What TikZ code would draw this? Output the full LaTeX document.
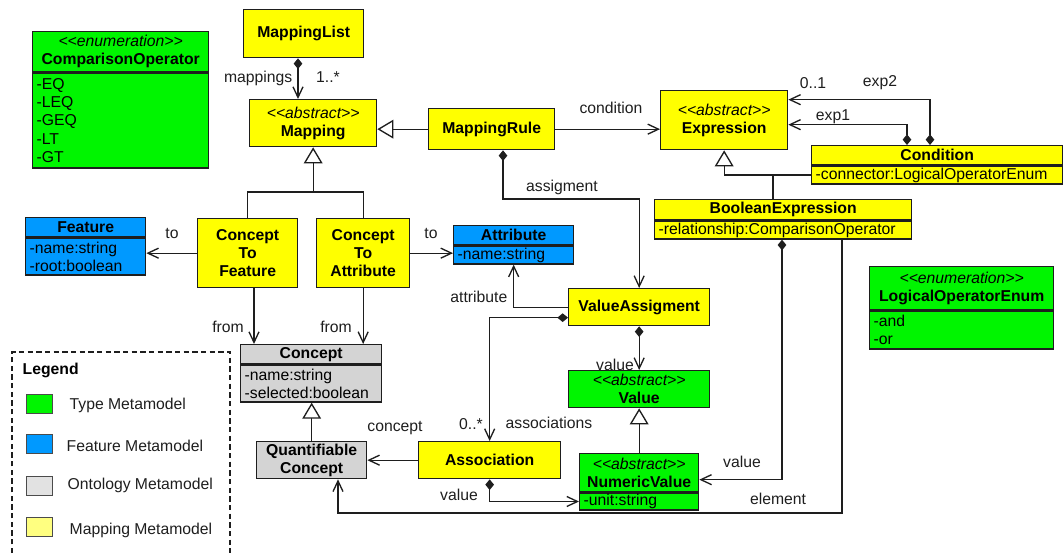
\documentclass[tikz,border=0pt]{standalone}
\usepackage{fontspec}
\setmainfont{Liberation Sans}
\usetikzlibrary{arrows.meta}
\newdimen\upx
\upx=0.75pt
\definecolor{linec}{HTML}{1E1E1E}
\definecolor{mapyellow}{HTML}{FFFF00}
\definecolor{typegreen}{HTML}{00F500}
\definecolor{featblue}{HTML}{0099FF}
\definecolor{ontogray}{HTML}{D4D4D4}
\definecolor{legyellow}{HTML}{FFFF80}
\definecolor{leggray}{HTML}{E2E2E2}
\newcommand\stereo[1]{{\mdseries\itshape <\kern0pt<#1>\kern0pt>}}
\newcommand\dfont{\fontsize{11.8}{13.6}\selectfont}

\begin{document}
\begin{tikzpicture}[x=0.75pt,y=-0.75pt,
  line width=1pt,
  cls/.style={draw=linec, line width=1pt, anchor=north west, inner sep=0pt,
    align=center, font=\dfont\bfseries},
  body/.style={draw=linec, line width=1pt, anchor=north west, inner ysep=0pt,
    inner xsep=4\upx, align=left, font=\dfont},
  lbl/.style={inner sep=0pt, font=\dfont, text=linec},
  conn/.style={draw=linec, line width=1pt},
  assoc/.style={conn, -{Straight Barb[length=8pt,width=7.5pt]}},
  comp/.style={conn, {Diamond[length=8pt,width=6.5pt]}-{Straight Barb[length=8pt,width=7.5pt]}},
  gen/.style={conn, -{Triangle[open,length=12pt,width=14pt,fill=white]}},
  swatch/.style={draw=linec!80, line width=0.8pt, anchor=north west,
    minimum width=26\upx, minimum height=19\upx, inner sep=0pt},
  legtext/.style={anchor=west, inner sep=0pt, font=\dfont, text=linec}
]
\useasboundingbox (0,0) rectangle (1063,553);

% ---------- classes ----------
\node[cls, fill=typegreen, minimum width=176\upx, minimum height=40\upx] (cmpH) at (32,31) {\stereo{enumeration}\\ComparisonOperator};
\node[body, fill=typegreen, text width=168\upx, minimum height=95\upx] (cmp) at (cmpH.south west) {-EQ\\-LEQ\\-GEQ\\-LT\\-GT};

\node[cls, fill=mapyellow, minimum width=120\upx, minimum height=48\upx] (mlist) at (243,9) {MappingList};
\node[cls, fill=mapyellow, minimum width=127\upx, minimum height=47\upx] (mapping) at (249,99) {\stereo{abstract}\\Mapping};
\node[cls, fill=mapyellow, minimum width=126\upx, minimum height=41\upx] (mrule) at (428,108) {MappingRule};
\node[cls, fill=mapyellow, minimum width=127\upx, minimum height=59\upx] (expr) at (660,90) {\stereo{abstract}\\Expression};

\node[cls, fill=mapyellow, minimum width=251\upx, minimum height=19\upx] (condH) at (811,145) {Condition};
\node[body, fill=mapyellow, text width=243\upx, minimum height=18\upx] (cond) at (condH.south west) {-connector:LogicalOperatorEnum};

\node[cls, fill=mapyellow, minimum width=257\upx, minimum height=20\upx] (beH) at (654,199) {BooleanExpression};
\node[body, fill=mapyellow, text width=249\upx, minimum height=18\upx] (be) at (beH.south west) {-relationship:ComparisonOperator};

\node[cls, fill=typegreen, minimum width=184\upx, minimum height=43\upx] (logH) at (869,266) {\stereo{enumeration}\\LogicalOperatorEnum};
\node[body, fill=typegreen, text width=176\upx, minimum height=38\upx] (log) at (logH.south west) {-and\\-or};

\node[cls, fill=featblue, minimum width=120\upx, minimum height=19\upx] (featH) at (25,217) {Feature};
\node[body, fill=featblue, text width=112\upx, minimum height=37\upx] (feat) at (featH.south west) {-name:string\\-root:boolean};

\node[cls, fill=mapyellow, minimum width=100\upx, minimum height=69\upx] (c2f) at (197,218) {Concept\\To\\Feature};
\node[cls, fill=mapyellow, minimum width=93\upx, minimum height=69\upx] (c2a) at (316,218) {Concept\\To\\Attribute};

\node[cls, fill=featblue, minimum width=120\upx, minimum height=19\upx] (attrH) at (453,225) {Attribute};
\node[body, fill=featblue, text width=112\upx, minimum height=18\upx] (attr) at (attrH.south west) {-name:string};

\node[cls, fill=mapyellow, minimum width=141\upx, minimum height=37\upx] (va) at (568,288) {ValueAssigment};

\node[cls, fill=ontogray, minimum width=141\upx, minimum height=19\upx] (conceptH) at (240,344) {Concept};
\node[body, fill=ontogray, text width=133\upx, minimum height=37\upx] (concept) at (conceptH.south west) {-name:string\\-selected:boolean};
\node[cls, fill=ontogray, minimum width=110\upx, minimum height=37\upx] (qc) at (256,441) {Quantifiable\\Concept};

\node[cls, fill=mapyellow, minimum width=142\upx, minimum height=37\upx] (asn) at (418,441) {Association};
\node[cls, fill=typegreen, minimum width=141\upx, minimum height=37\upx] (value) at (568,370) {\stereo{abstract}\\Value};
\node[cls, fill=typegreen, minimum width=119\upx, minimum height=38\upx] (numvH) at (579,453) {\stereo{abstract}\\NumericValue};
\node[body, fill=typegreen, text width=111\upx, minimum height=17\upx] (numv) at (numvH.south west) {-unit:string};

% ---------- connectors ----------
\coordinate (genBar) at (0,192);
\coordinate (elemY) at (0,513);

% mappings
\draw[comp] ([xshift=55\upx]mlist.south west) -- ([xshift=55\upx]mlist.south west |- mapping.north);
\node[lbl, anchor=east] (lMappings) at (293,78) {mappings};
\node[lbl] (lMult1) at (328,77) {1..*};

% MappingRule is a Mapping
\draw[gen] (mrule.west) -- (mrule.west -| mapping.east);

% condition
\draw[assoc] (mrule.east) -- (mrule.east -| expr.west);
\node[lbl] (lCondition) at (611,108) {condition};

% concrete mappings
\draw[conn] (c2f.north) |- (mapping.south |- genBar) -| (c2a.north);
\draw[gen] (mapping.south |- genBar) -- (mapping.south);

% to
\draw[assoc] (c2f.west) -- (c2f.west -| feat.east);
\node[lbl] (lToF) at (172,233) {to};
\draw[assoc] (c2a.east) -- (c2a.east -| attr.west);
\node[lbl] (lToA) at (431,233) {to};

% from
\draw[assoc] ([xshift=57\upx]c2f.south west) -- ([xshift=57\upx]c2f.south west |- conceptH.north);
\node[lbl, anchor=east] (lFrom1) at (244.5,327) {from};
\draw[assoc] (c2a.south) -- (c2a.south |- conceptH.north);
\node[lbl, anchor=east] (lFrom2) at (352.5,327) {from};

% QuantifiableConcept is a Concept
\draw[gen] (qc.north) -- (qc.north |- concept.south);

% concept
\draw[assoc] (asn.west) -- (asn.west -| qc.east);
\node[lbl] (lConcept) at (395,428) {concept};

% associations
\draw[comp] ([yshift=-10.5\upx]va.west) -| (asn.north);
\node[lbl] (lMult2) at (471,424) {0..*};
\node[lbl] (lAssociations) at (549,423) {associations};

% attribute
\draw[assoc] (va.west) -| (attr.south);
\node[lbl, anchor=east] (lAttribute) at (508,297) {attribute};

% assigment
\draw[comp] ([xshift=75\upx]mrule.south west) |- (va.north |- beH.north) -- (va.north);
\node[lbl] (lAssigment) at (562,187) {assigment};

% value of a ValueAssigment
\draw[comp] (va.south) -- (value.north);
\node[lbl] (lValue1) at (615,365) {value};

% NumericValue is a Value
\draw[gen] (numvH.north) -- (value.south);

% value of an Association
\draw[comp] (asn.south) |- (numv.west);
\node[lbl] (lValue2) at (459,495) {value};

% value of a BooleanExpression
\draw[comp] ([xshift=128\upx]be.south west) |- ([yshift=-7\upx]numvH.east);
\node[lbl] (lValue3) at (742,462) {value};

% element
\draw[assoc] ([xshift=188\upx]be.south west) |- ([xshift=82\upx]qc.south west |- elemY) -- ([xshift=82\upx]qc.south west);
\node[lbl] (lElement) at (778,499) {element};

% Condition and BooleanExpression are Expressions
\draw[gen] (cond.west) -| (expr.south);
\draw[conn] ([xshift=119\upx]beH.north west) -- ([xshift=119\upx]beH.north west |- cond.west);

% exp1 / exp2
\draw[comp] ([xshift=96\upx]condH.north west) |- ([yshift=-4.5\upx]expr.east);
\node[lbl] (lExp1) at (833,117) {exp1};
\draw[comp] ([xshift=119\upx]condH.north west) |- ([yshift=20.5\upx]expr.east);
\node[lbl] (lMult3) at (813,83) {0..1};
\node[lbl] (lExp2) at (880,83) {exp2};

% ---------- legend ----------
\draw[linec, line width=0.9pt, dash pattern=on 4pt off 2.5pt] (12,553) -- (12,352) -- (230,352) -- (230,553);
\node[anchor=west, inner sep=0pt, font=\dfont\bfseries] (legT) at (22,370) {Legend};
\node[swatch, fill=typegreen] (sw1) at (26,394) {};
\node[legtext] (lg1) at (69,405) {Type Metamodel};
\node[swatch, fill=featblue] (sw2) at (26,434) {};
\node[legtext] (lg2) at (66,446) {Feature Metamodel};
\node[swatch, fill=leggray] (sw3) at (26,476) {};
\node[legtext] (lg3) at (67,485) {Ontology Metamodel};
\node[swatch, fill=legyellow] (sw4) at (26,517) {};
\node[legtext] (lg4) at (69,530) {Mapping Metamodel};
\end{tikzpicture}
\end{document}
